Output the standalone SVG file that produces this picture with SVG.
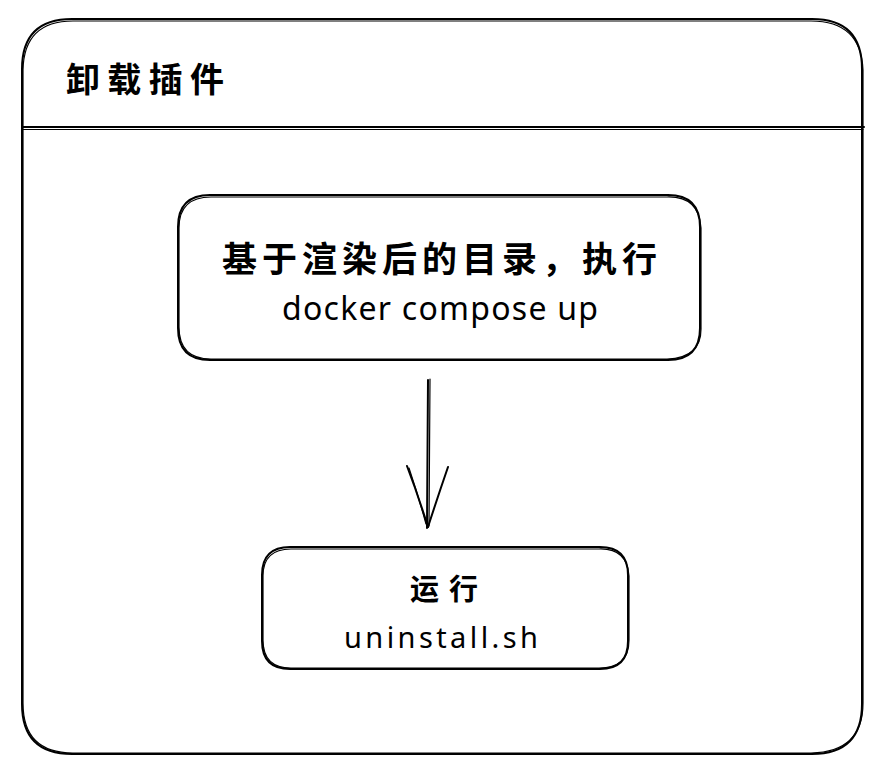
<svg xmlns="http://www.w3.org/2000/svg" width="886" height="774" viewBox="0 0 886 774">
<style>
.s{fill:none;stroke:#000;stroke-width:2;stroke-linecap:round;stroke-linejoin:round}
.t{stroke-width:1.2}
.cjk{font-family:"Noto Sans CJK SC","Noto Sans",sans-serif;fill:#000}
.lat{font-family:"Noto Sans","Noto Sans CJK SC",sans-serif;fill:#000}
</style>
<rect x="0" y="0" width="886" height="774" fill="#fff"/>
<g id="frame">
<path class="s" d="M72,19 H812 Q862,19 862,69 V704 Q862,754 812,754 H72 Q22,754 22,704 V69 Q22,19 72,19 Z"/>
<path class="s t" d="M73,21 H811 Q861,21 863,70 V703 Q863,752 811,753 H73 Q23,753 23,703 V70 Q24,21 73,21"/>
<path class="s" d="M22,127 H864"/>
<path class="s t" d="M23,129.5 H863"/>
<text class="cjk" x="66" y="92" font-size="34" font-weight="bold" textLength="158" lengthAdjust="spacing">卸载插件</text>
</g>
<g id="node-compose">
<path class="s" d="M210,195 H668 Q700,195 700,227 V328 Q700,360 668,360 H210 Q178,360 178,328 V227 Q178,195 210,195 Z"/>
<path class="s t" d="M211,197 H667 Q699,196 701,228 V327 Q702,358 667,359 H211 Q179,359 179,327 V228 Q179,197 211,197"/>
<text class="cjk" x="222" y="272" font-size="35" font-weight="bold" textLength="435" lengthAdjust="spacing">基于渲染后的目录，执行</text>
<text class="lat" x="282" y="320" font-size="32" textLength="316" lengthAdjust="spacing">docker compose up</text>
</g>
<g id="node-uninstall">
<path class="s" d="M290,547 H600 Q628,547 628,575 V641 Q628,669 600,669 H290 Q262,669 262,641 V575 Q262,547 290,547 Z"/>
<path class="s t" d="M291,549 H599 Q627,548 629,576 V640 Q629,668 599,668 H291 Q263,668 263,640 V576 Q263,549 291,549"/>
<text class="cjk" x="410" y="600" font-size="29" font-weight="bold" textLength="68" lengthAdjust="spacing">运行</text>
<text class="lat" x="344" y="648" font-size="29" textLength="194" lengthAdjust="spacing">uninstall.sh</text>
</g>
<g id="connectors">
<path class="s" d="M428,380 L427,528"/>
<path class="s t" d="M430,379 L429,526"/>
<path class="s" d="M407,466 Q418,495 428,527"/>
<path class="s" d="M448,467 Q438,496 428,527"/>
<path class="s t" d="M409,468 Q419,498 426,524"/>
</g>
</svg>
